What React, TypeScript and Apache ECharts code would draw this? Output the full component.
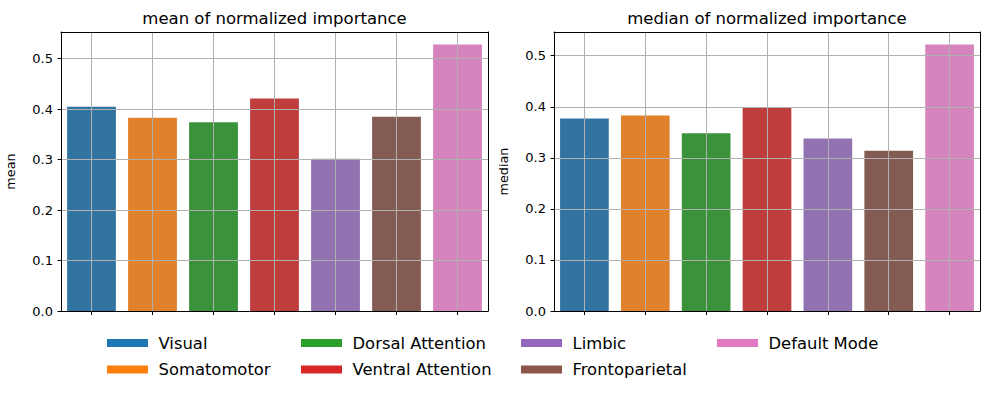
import React, { useEffect, useRef } from 'react';
import * as echarts from 'echarts';

const networks = ['Visual', 'Somatomotor', 'Dorsal Attention', 'Ventral Attention', 'Limbic', 'Frontoparietal', 'Default Mode'];
const meanValues = [0.405, 0.383, 0.374, 0.421, 0.302, 0.385, 0.528];
const medianValues = [0.377, 0.383, 0.348, 0.399, 0.338, 0.314, 0.522];
const yTicks = [0, 0.1, 0.2, 0.3, 0.4, 0.5];
const yMax = [0.553, 0.5465];
const titles = ['mean of normalized importance', 'median of normalized importance'];
const yNames = ['mean', 'median'];
const barColors = ['#3274a1', '#e1812c', '#3a923a', '#c03d3e', '#9372b2', '#845b53', '#d684bd'];
const legendColors = ['#1f77b4', '#ff7f0e', '#2ca02c', '#d62728', '#9467bd', '#8c564b', '#e377c2'];

const FONT = 'DejaVu Sans';
const grids = [
  { left: 61, right: 501, top: 32, bottom: 85 },
  { left: 554, right: 9, top: 32, bottom: 85 },
];
const legendColX = [107, 301, 521, 717];
const legendRowY = [343, 369.5];

export default function App() {
  const ref = useRef<HTMLDivElement>(null);
  useEffect(() => {
    if (!ref.current) return;
    const chart = echarts.init(ref.current, undefined, { renderer: 'svg' });
    const panels = [meanValues, medianValues];
    const xAxis: any[] = [];
    const yAxis: any[] = [];
    const series: any[] = [];
    const title: any[] = [];
    panels.forEach((vals, p) => {
      const g = grids[p];
      xAxis.push({
        type: 'category', gridIndex: p, data: networks, position: 'bottom', z: 3,
        axisLine: { show: true, onZero: false, lineStyle: { color: '#000', width: 1 } },
        axisTick: { show: true, interval: 0, alignWithLabel: true, length: 4, lineStyle: { color: '#000' } },
        axisLabel: { show: false, interval: 0 },
        splitLine: { show: true, interval: 0, alignWithLabel: true, lineStyle: { color: '#b0b0b0', width: 1 } },
      });
      xAxis.push({
        type: 'category', gridIndex: p, data: networks, position: 'top', z: 4,
        axisLine: { show: true, onZero: false, lineStyle: { color: '#000', width: 1 } },
        axisTick: { show: false }, axisLabel: { show: false }, splitLine: { show: false },
      });
      yAxis.push({
        type: 'value', gridIndex: p, min: 0, max: yMax[p], interval: 0.1, position: 'left', z: 3,
        name: yNames[p], nameLocation: 'middle', nameGap: 44,
        nameTextStyle: { fontSize: 12.8, color: '#000', fontFamily: FONT },
        axisLine: { show: true, onZero: false, lineStyle: { color: '#000', width: 1 } },
        axisTick: { show: true, length: 3.5, lineStyle: { color: '#000' }, customValues: yTicks },
        axisLabel: {
          show: true, margin: 8, fontSize: 13, color: '#000', fontFamily: FONT,
          customValues: yTicks, formatter: (v: number) => v.toFixed(1),
        },
        splitLine: { show: true, lineStyle: { color: '#b0b0b0', width: 1 } },
      });
      yAxis.push({
        type: 'value', gridIndex: p, min: 0, max: yMax[p], position: 'right', z: 4,
        axisLine: { show: true, onZero: false, lineStyle: { color: '#000', width: 1 } },
        axisTick: { show: false }, axisLabel: { show: false }, splitLine: { show: false },
      });
      series.push({
        type: 'bar', name: yNames[p], xAxisIndex: 2 * p, yAxisIndex: 2 * p, z: 2,
        barCategoryGap: '20%',
        data: vals.map((v, i) => ({ value: v, itemStyle: { color: barColors[i] } })),
      });
      const chartW = 989;
      const cx = (g.left + (chartW - g.right)) / 2;
      title.push({
        text: titles[p], left: cx, top: 9.5, textAlign: 'center', padding: 0,
        textStyle: { fontSize: 16.5, fontWeight: 'normal', color: '#000', fontFamily: FONT },
      });
    });

    const graphic: any[] = [];
    networks.forEach((name, i) => {
      const col = Math.floor(i / 2);
      const row = i % 2;
      graphic.push({
        type: 'rect', left: legendColX[col], top: legendRowY[row] - 4,
        shape: { width: 41, height: 8 }, style: { fill: legendColors[i] },
      });
      graphic.push({
        type: 'text', x: legendColX[col] + 51.5, y: legendRowY[row],
        style: { text: name, fill: '#000', font: `16.4px "${FONT}"`, textVerticalAlign: 'middle', textAlign: 'left' },
      });
    });

    chart.setOption({
      animation: false,
      backgroundColor: '#fff',
      title,
      grid: grids.map((g) => ({ ...g, containLabel: false })),
      xAxis,
      yAxis,
      series,
      graphic,
    });
    return () => chart.dispose();
  }, []);
  return <div ref={ref} style={{ position: 'fixed', left: 0, top: 0, width: 989, height: 396 }} />;
}
